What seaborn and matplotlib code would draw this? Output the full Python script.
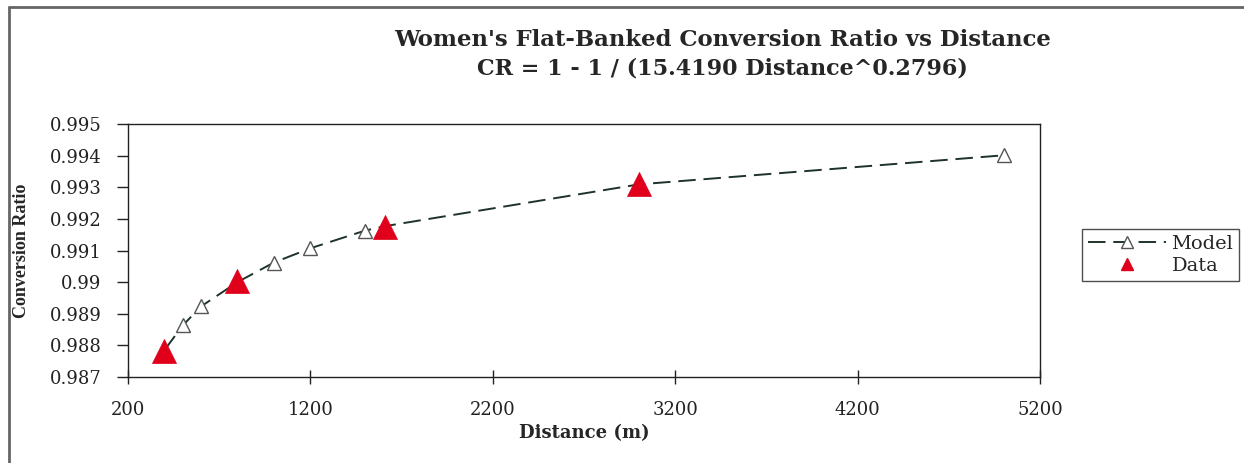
import matplotlib
matplotlib.use("Agg")
import matplotlib.pyplot as plt
import seaborn as sns
import pandas as pd
from matplotlib.lines import Line2D
from matplotlib.ticker import FuncFormatter

# Data
model_distance = [400, 500, 600, 800, 1000, 1200, 1500, 1609, 3000, 5000]
model_cr = [0.98785, 0.98863, 0.98923, 0.99000, 0.99062, 0.99107, 0.99163, 0.99177, 0.99309, 0.99401]
data_distance = [400, 800, 1609, 3000]
data_cr = [0.98783, 0.99005, 0.99175, 0.99310]
x_ticks = [200, 1200, 2200, 3200, 4200, 5200]
y_ticks = [0.987, 0.988, 0.989, 0.990, 0.991, 0.992, 0.993, 0.994, 0.995]

title_line1 = "Women's Flat-Banked Conversion Ratio vs Distance"
title_line2 = "CR = 1 - 1 / (15.4190 Distance^0.2796)"

sns.set_theme(style="white")
plt.rcParams['font.family'] = ['DejaVu Serif']

model_df = pd.DataFrame({"Distance": model_distance, "CR": model_cr})
data_df = pd.DataFrame({"Distance": data_distance, "CR": data_cr})

fig = plt.figure(figsize=(12.44, 4.63), dpi=100)
ax = fig.add_axes([128/1244, 1 - 377/463, (1040 - 128)/1244, (377 - 124)/463])

line_color = "#1e3328"
sns.lineplot(data=model_df, x="Distance", y="CR", ax=ax, color=line_color,
             linewidth=1.4, dashes=False, marker="^", markersize=10,
             markerfacecolor="white", markeredgecolor="#555555",
             markeredgewidth=1.0, zorder=2)
ax.lines[-1].set_dashes([9, 4])

sns.scatterplot(data=data_df, x="Distance", y="CR", ax=ax, marker="^",
                s=300, color="#e0001b", edgecolor="#e0001b", linewidth=0.5,
                zorder=3)

ax.set_xlim(200, 5200)
ax.set_ylim(0.987, 0.995)
ax.set_xticks(x_ticks)
ax.set_yticks(y_ticks)
ax.yaxis.set_major_formatter(FuncFormatter(lambda v, p: f"{v:.3f}".rstrip("0")))
ax.tick_params(axis="y", which="major", direction="out", length=8, width=1,
               labelsize=13, colors="#222222", pad=11, left=True)
ax.tick_params(axis="x", which="major", direction="inout", length=10, width=1,
               labelsize=13, colors="#222222", pad=12, bottom=True)
for s in ax.spines.values():
    s.set_color("#222222")
    s.set_linewidth(1.0)

ax.set_xlabel("Distance (m)", fontsize=13, fontweight="bold", labelpad=4)
ax.set_ylabel("Conversion Ratio", fontsize=13, fontweight="bold",
              family=["Liberation Serif", "DejaVu Serif"])
ax.yaxis.set_label_coords(-98/912, 0.5)

fig.text(0.581, 0.914, title_line1, ha="center", va="center",
         fontsize=16.4, fontweight="bold")
fig.text(0.581, 0.851, title_line2, ha="center", va="center",
         fontsize=16, fontweight="bold")

handles = [
    Line2D([0], [0], color=line_color, linewidth=1.4, dashes=[9, 4],
           marker="^", markersize=8, markerfacecolor="white",
           markeredgecolor="#555555"),
    Line2D([0], [0], linestyle="none", marker="^", markersize=8,
           color="#e0001b"),
]
leg = fig.legend(handles, ["Model", "Data"], loc="center left",
                 bbox_to_anchor=(1082/1244, 0.449), frameon=True, fancybox=False,
                 fontsize=14, handlelength=4.0, borderpad=0.3, labelspacing=0.2,
                 handletextpad=0.3, borderaxespad=0)
leg.get_frame().set_edgecolor("#222222")
leg.get_frame().set_linewidth(1.0)

# outer chart border (top and left visible)
fig.add_artist(Line2D([9/1244, 9/1244], [0, 1 - 7/463], transform=fig.transFigure,
                      color="#666666", linewidth=2))
fig.add_artist(Line2D([9/1244, 1], [1 - 7/463, 1 - 7/463], transform=fig.transFigure,
                      color="#666666", linewidth=2))

fig.savefig("out.png", dpi=100)
